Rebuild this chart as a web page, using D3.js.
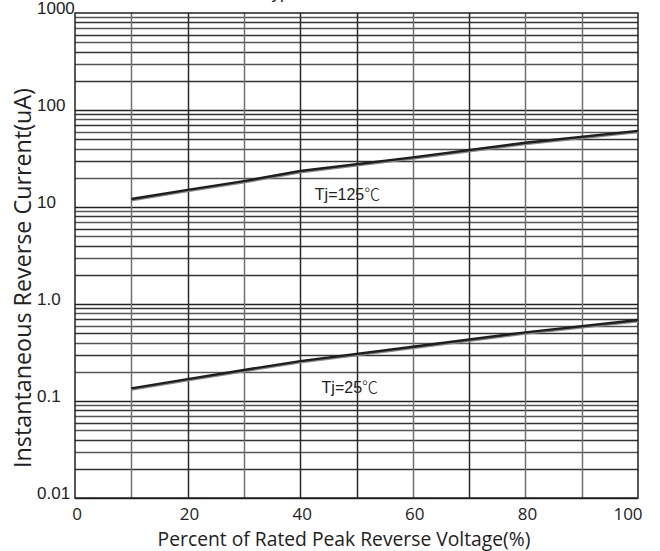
<!DOCTYPE html>
<html>
<head>
<meta charset="utf-8">
<script src="https://cdn.jsdelivr.net/npm/d3@7"></script>
<style>
  body { margin: 0; background: #fff; }
  svg { display: block; }
</style>
</head>
<body>
<div id="chart"></div>
<script>
// Data
var voltage125 = [10, 20, 30, 40, 60, 80, 100];
var current125 = [12.1, 15.0, 18.5, 23.5, 32.5, 46, 61];
var voltage25 = [10, 20, 30, 40, 60, 80, 100];
var current25 = [0.135, 0.168, 0.209, 0.258, 0.363, 0.51, 0.684];
var xTicks = [0, 20, 40, 60, 80, 100];
var yTicks = [1000, 100, 10, 1, 0.1, 0.01];
var yTickLabels = ["1000", "100", "10", "1.0", "0.1", "0.01"];

var margin = { top: 13, right: 22, bottom: 53, left: 75 };
var svgW = 660, svgH = 551;
var w = svgW - margin.left - margin.right;
var h = svgH - margin.top - margin.bottom;

var svg = d3.select("#chart").append("svg")
  .attr("width", svgW)
  .attr("height", svgH);

// title, mostly cut off at the top edge (as in the original)
svg.append("text")
  .attr("x", 262)
  .attr("y", -1)
  .style("font-family", "Liberation Sans, Arial, sans-serif")
  .style("font-size", "17px")
  .attr("fill", "#222")
  .text("Typical Reverse Characteristics");

var g = svg.append("g")
  .attr("transform", "translate(" + margin.left + "," + margin.top + ")");

var x = d3.scaleLinear().domain([0, 100]).range([0, w]);
var y = d3.scaleLog().domain([0.01, 1000]).range([h, 0]);

// horizontal grid (log minor lines)
var hLines = [];
for (var e = -2; e < 3; e++) {
  for (var m = 1; m <= 9; m++) hLines.push(m * Math.pow(10, e));
}
g.append("g").selectAll("line")
  .data(hLines)
  .enter().append("line")
  .attr("x1", 0).attr("x2", w)
  .attr("y1", d => Math.round(y(d)) + 0.5)
  .attr("y2", d => Math.round(y(d)) + 0.5)
  .attr("stroke", (d, i) => i % 9 == 0 ? "#222" : (i % 2 ? "#333" : "#555"))
  .attr("stroke-width", 1.3);

// vertical grid
var vLines = d3.range(10, 100, 10);
var darkV = [20, 40, 50, 70];
g.append("g").selectAll("line")
  .data(vLines)
  .enter().append("line")
  .attr("x1", d => Math.round(x(d)) + 0.5)
  .attr("x2", d => Math.round(x(d)) + 0.5)
  .attr("y1", 0).attr("y2", h)
  .attr("stroke", d => darkV.indexOf(d) >= 0 ? "#2a2a2a" : "#707070")
  .attr("stroke-width", 1.5);

// frame
g.append("rect")
  .attr("x", 0).attr("y", 0)
  .attr("width", w).attr("height", h)
  .attr("fill", "none")
  .attr("stroke", "#222")
  .attr("stroke-width", 1.5);

// curves
var line = d3.line()
  .x(d => x(d[0]))
  .y(d => y(d[1]));

var series = [
  d3.zip(voltage125, current125),
  d3.zip(voltage25, current25)
];

series.forEach(function (s) {
  g.append("path")
    .datum(s)
    .attr("d", line)
    .attr("transform", "translate(0,1.2)")
    .attr("fill", "none")
    .attr("stroke", "#888")
    .attr("stroke-width", 2.5);
  g.append("path")
    .datum(s)
    .attr("d", line)
    .attr("fill", "none")
    .attr("stroke", "#1e1e1e")
    .attr("stroke-width", 2.4);
});

// curve labels
function tjLabel(xv, yv, txt) {
  var t = g.append("text")
    .attr("x", x(xv))
    .attr("y", y(yv))
    .style("font-family", "Liberation Sans, Arial, sans-serif")
    .style("font-size", "16px")
    .attr("fill", "#222");
  t.append("tspan").text(txt);
  t.append("tspan")
    .style("font-family", "Noto Sans CJK SC")
    .style("font-weight", 300)
    .text("\u2103");
}
tjLabel(42.6, 11.8, "Tj=125");
tjLabel(43.8, 0.121, "Tj=25");

// y tick labels
g.append("g").selectAll("text")
  .data(yTicks)
  .enter().append("text")
  .attr("x", -38)
  .attr("y", d => y(d))
  .attr("dy", "1")
  .style("font-family", "Liberation Sans, Arial, sans-serif")
  .style("font-size", "17px")
  .attr("fill", "#222")
  .text((d, i) => yTickLabels[i]);

// x tick labels
g.append("g").selectAll("text")
  .data(xTicks)
  .enter().append("text")
  .attr("x", d => x(d))
  .attr("y", h + 22)
  .attr("dx", d => d == 100 ? -10 : 2)
  .attr("text-anchor", "middle")
  .style("font-family", "Open Sans, sans-serif")
  .style("font-size", "17px")
  .attr("fill", "#222")
  .text(d => d);

// axis titles
svg.append("text")
  .attr("x", 344)
  .attr("y", 546)
  .attr("text-anchor", "middle")
  .style("font-family", "Open Sans, sans-serif")
  .style("font-size", "19.3px")
  .attr("fill", "#222")
  .text("Percent of Rated Peak Reverse Voltage(%)");

svg.append("text")
  .attr("transform", "translate(31,278) rotate(-90)")
  .attr("text-anchor", "middle")
  .style("font-family", "Open Sans, sans-serif")
  .style("font-size", "23.3px")
  .attr("fill", "#222")
  .text("Instantaneous Reverse Current(uA)");
</script>
</body>
</html>
